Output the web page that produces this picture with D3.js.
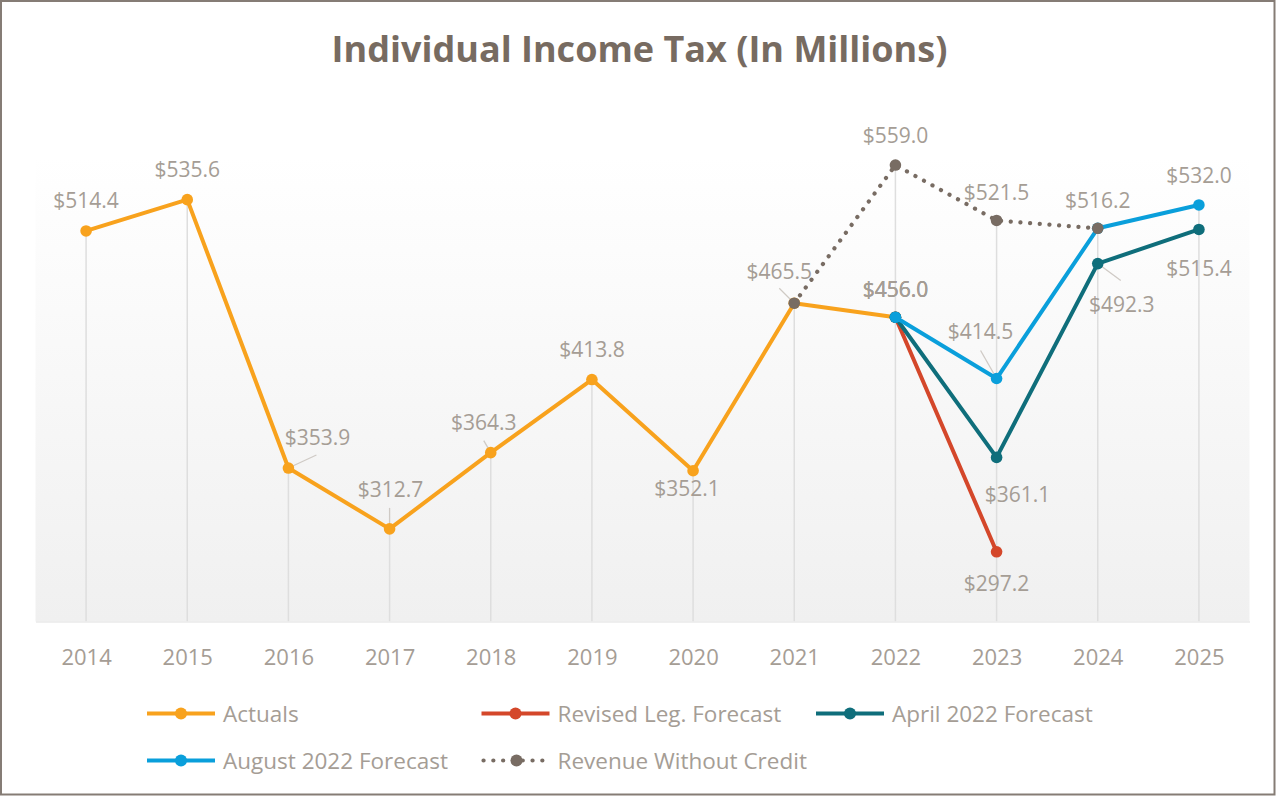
<!DOCTYPE html>
<html>
<head>
<meta charset="utf-8">
<script src="https://cdn.jsdelivr.net/npm/d3@7/dist/d3.min.js"></script>
<style>
  html, body { margin: 0; padding: 0; background: #ffffff; }
  svg { display: block; }
  text { font-family: "Open Sans", "Noto Sans", sans-serif; }
</style>
</head>
<body>
<svg id="chart" width="1276" height="796"></svg>
<script>
// ---------------- data ----------------
const years = ["2014","2015","2016","2017","2018","2019","2020","2021","2022","2023","2024","2025"];
const actuals              = [514.4, 535.6, 353.9, 312.7, 364.3, 413.8, 352.1, 465.5, 456.0, null, null, null];
const revisedLegForecast   = [null, null, null, null, null, null, null, null, 456.0, 297.2, null, null];
const april2022Forecast    = [null, null, null, null, null, null, null, null, 456.0, 361.1, 492.3, 515.4];
const august2022Forecast   = [null, null, null, null, null, null, null, null, 456.0, 414.5, 516.2, 532.0];
const revenueWithoutCredit = [null, null, null, null, null, null, null, 465.5, 559.0, 521.5, 516.2, null];
const seriesNames = ["Actuals", "Revised Leg. Forecast", "April 2022 Forecast", "August 2022 Forecast", "Revenue Without Credit"];
const seriesValues = [actuals, revisedLegForecast, april2022Forecast, august2022Forecast, revenueWithoutCredit];
const titleText = "Individual Income Tax (In Millions)";

// ---------------- styles / layout ----------------
const seriesColors = ["#F8A21D", "#D4472A", "#0F6E7B", "#0A9FDB", "#786C63"];
const seriesDotted = [false, false, false, false, true];
const labelColor = "#A59D95";
const W = 1276, H = 796;
const plot = { left: 35.5, right: 1249.5, top: 104.5, bottom: 621.5 };

// label placement: [seriesIndex, yearIndex, dx, dy(baseline), leaderDx, leaderDy]
const labelPlacement = [
  [0, 0, 0, -23], [0, 1, 0, -23], [0, 2, 29, -23, 28, -13], [0, 3, 1, -32, 0, -21],
  [0, 4, -7, -23, -7, -12], [0, 5, 0, -23], [0, 6, -6, 25], [0, 7, -15, -24, -15, -15],
  [0, 8, 0, -20], [2, 8, 0, -20], [3, 8, 0, -20],
  [1, 9, 0, 39],
  [2, 9, 21, 45], [2, 10, 24, 48, 23, 17], [2, 11, 0, 47],
  [3, 9, -16, -40, -16, -28], [3, 11, 0, -22],
  [4, 8, 0, -22], [4, 9, 0, -20], [4, 10, 0, -20]
];

const svg = d3.select("#chart");

// scales
const x = d3.scalePoint().domain(years).range([plot.left, plot.right]).padding(0.5);
const y = d3.scaleLinear().domain([250, 600]).range([plot.bottom, plot.top]);

// outer border
svg.append("rect").attr("x", 1).attr("y", 1).attr("width", W - 2.5).attr("height", H - 2.5)
  .attr("fill", "#ffffff").attr("stroke", "#857C75").attr("stroke-width", 2);

// plot gradient
const defs = svg.append("defs");
const grad = defs.append("linearGradient").attr("id", "plotGrad")
  .attr("x1", 0).attr("y1", 0).attr("x2", 0).attr("y2", 1);
grad.append("stop").attr("offset", "0%").attr("stop-color", "#ffffff");
grad.append("stop").attr("offset", "10%").attr("stop-color", "#ffffff");
grad.append("stop").attr("offset", "100%").attr("stop-color", "#F0F0F0");
svg.append("rect").attr("x", plot.left).attr("y", plot.top)
  .attr("width", plot.right - plot.left).attr("height", plot.bottom - plot.top)
  .attr("fill", "url(#plotGrad)");

// title
const title = svg.append("text").attr("x", 639.5).attr("y", 62).attr("text-anchor", "middle")
  .attr("font-size", 34).attr("font-weight", 700).attr("fill", "#776B61").text(titleText);
const tw = title.node().getComputedTextLength();
title.attr("font-size", 34 * 616 / tw);

// drop lines (from highest point to axis)
years.forEach((yr, i) => {
  const vals = seriesValues.map(s => s[i]).filter(v => v != null);
  if (!vals.length) return;
  svg.append("line").attr("x1", x(yr)).attr("x2", x(yr))
    .attr("y1", y(d3.max(vals))).attr("y2", plot.bottom)
    .attr("stroke", "#DEDEDE").attr("stroke-width", 1.5);
});

// bottom axis
const xAxis = d3.axisBottom(x).tickSize(0).tickPadding(0);
const gx = svg.append("g").attr("transform", `translate(0,${plot.bottom})`).call(xAxis);
gx.select(".domain").attr("stroke", "#EAEAEA").attr("stroke-width", 1.5);
gx.selectAll("text").attr("font-family", '"Open Sans", sans-serif').attr("font-size", 22)
  .attr("fill", labelColor).attr("dy", 0).attr("y", 43.5);

// leader lines
const leaders = svg.append("g");
labelPlacement.forEach(p => {
  if (p.length < 6) return;
  const v = seriesValues[p[0]][p[1]];
  const px = x(years[p[1]]), py = y(v);
  leaders.append("line").attr("x1", px).attr("y1", py)
    .attr("x2", px + p[4]).attr("y2", py + p[5])
    .attr("stroke", "#CFCAC5").attr("stroke-width", 1.3);
});

// series lines & markers
const lineGen = d3.line().defined(d => d.v != null).x(d => x(d.year)).y(d => y(d.v));
seriesValues.forEach((vals, si) => {
  const pts = vals.map((v, i) => ({ year: years[i], v }));
  const g = svg.append("g");
  const path = g.append("path").datum(pts).attr("d", lineGen)
    .attr("fill", "none").attr("stroke", seriesColors[si])
    .attr("stroke-linejoin", "round").attr("stroke-linecap", "round");
  if (seriesDotted[si]) {
    path.attr("stroke-width", 4.2).attr("stroke-dasharray", "0.1 9.6");
  } else {
    path.attr("stroke-width", 4);
  }
  g.selectAll("circle").data(pts.filter(d => d.v != null)).join("circle")
    .attr("cx", d => x(d.year)).attr("cy", d => y(d.v)).attr("r", 5.8)
    .attr("fill", seriesColors[si]);
});

// data labels
const fmt = v => "$" + d3.format(".1f")(v);
labelPlacement.forEach(p => {
  const v = seriesValues[p[0]][p[1]];
  svg.append("text").attr("x", x(years[p[1]]) + p[2]).attr("y", y(v) + p[3])
    .attr("text-anchor", "middle").attr("font-size", 21).attr("fill", labelColor)
    .text(fmt(v));
});

// legend
const legend = svg.append("g");
seriesNames.forEach((name, si) => {
  const col = si % 3, row = Math.floor(si / 3);
  const lx = 147 + col * 334.5, ly = 713.5 + row * 47;
  const g = legend.append("g").attr("transform", `translate(${lx},${ly})`);
  const ln = g.append("line").attr("x1", 0).attr("x2", 68).attr("y1", 0).attr("y2", 0)
    .attr("stroke", seriesColors[si]).attr("stroke-linecap", "round");
  if (seriesDotted[si]) {
    ln.attr("stroke-width", 4.2).attr("stroke-dasharray", "0.1 9.7").attr("x1", 2).attr("x2", 66);
  } else {
    ln.attr("stroke-width", 4).attr("stroke-linecap", "butt");
  }
  g.append("circle").attr("cx", seriesDotted[si] ? 35 : 34).attr("cy", 0).attr("r", 6).attr("fill", seriesColors[si]);
  g.append("text").attr("x", 76).attr("y", 8).attr("font-size", 22.5).attr("fill", labelColor).text(name);
});
</script>
</body>
</html>
